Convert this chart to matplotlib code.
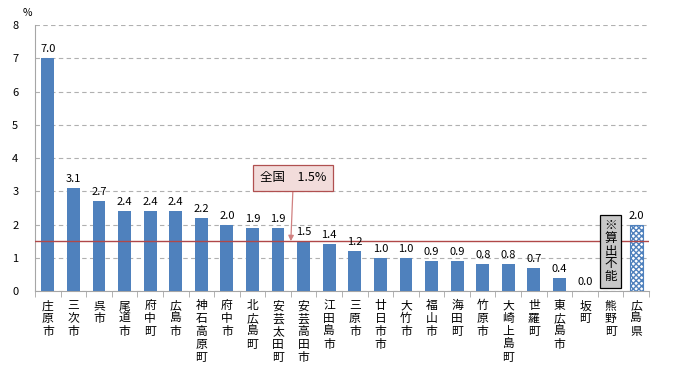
import matplotlib.pyplot as plt
import numpy as np

plt.rcParams['font.family'] = ['Noto Sans CJK JP', 'DejaVu Sans']

# data
names = ['庄原市', '三次市', '呉市', '尾道市', '府中町', '広島市', '神石高原町', '府中市',
         '北広島町', '安芸太田町', '安芸高田市', '江田島市', '三原市', '廿日市市', '大竹市',
         '福山市', '海田町', '竹原市', '大崎上島町', '世羅町', '東広島市', '坂町', '熊野町', '広島県']
values = [7.0, 3.1, 2.7, 2.4, 2.4, 2.4, 2.2, 2.0, 1.9, 1.9, 1.5, 1.4, 1.2, 1.0, 1.0,
          0.9, 0.9, 0.8, 0.8, 0.7, 0.4, 0.0, np.nan, 2.0]
national = 1.5
na_index = 22     # 熊野町: 算出不能
pref_index = 23   # 広島県

blue = '#4F81BD'

fig = plt.figure(figsize=(6.81, 3.71), dpi=100)
ax = fig.add_axes([0.0514, 0.2156, 0.9016, 0.717])

x = np.arange(len(names))
vals = np.nan_to_num(np.array(values, dtype=float))
bars = ax.bar(x, vals, width=0.5, color=blue, zorder=3)
bars[pref_index].set_facecolor('white')
bars[pref_index].set_edgecolor(blue)
bars[pref_index].set_hatch('xxxxxx')
bars[pref_index].set_linewidth(0.8)

for i, v in enumerate(values):
    if np.isnan(v):
        continue
    ax.text(i, v + 0.12, f'{v:.1f}', ha='center', va='bottom', fontsize=8, zorder=5)

# national average line
ax.axhline(national, color='#B04848', lw=1.0, zorder=4)
ax.annotate('全国　1.5%', xy=(9.5, national), xytext=(9.6, 3.4),
            ha='center', va='center', fontsize=9,
            bbox=dict(boxstyle='square,pad=0.55', fc='#F2DCDB', ec='#B05050', lw=0.9),
            arrowprops=dict(arrowstyle='-|>', color='#D08080', lw=0.9,
                            mutation_scale=8, shrinkA=0, shrinkB=0),
            zorder=6)

# not computable box
ax.text(na_index, 1.2, '※\n算\n出\n不\n能', ha='center', va='center', fontsize=9,
        linespacing=0.98,
        bbox=dict(boxstyle='square,pad=0.35', fc='#C8C8C8', ec='black', lw=0.9), zorder=6)

ax.set_xlim(-0.5, len(names) - 0.5)
ax.set_ylim(0, 8)
ax.set_yticks(range(0, 9))
ax.tick_params(axis='y', length=0, labelsize=8, pad=12)
ax.yaxis.grid(True, color='#B0B0B0', linestyle=(0, (4, 3)), lw=0.8, zorder=0)

ax.set_xticks(x)
ax.set_xticklabels(['\n'.join(n) for n in names], fontsize=8.5, linespacing=1.0, va='top')
ax.tick_params(axis='x', length=0, pad=6)
ax.set_xticks(np.arange(-0.5, len(names)), minor=True)
ax.tick_params(axis='x', which='minor', length=4, color='#A6A6A6', direction='out')

for s in ['top', 'right']:
    ax.spines[s].set_visible(False)
ax.spines['left'].set_color('#A6A6A6')
ax.spines['bottom'].set_color('#A6A6A6')

fig.text(0.04, 0.965, '%', fontsize=7.5, ha='center', va='center')

fig.savefig('out.png', dpi=100)
